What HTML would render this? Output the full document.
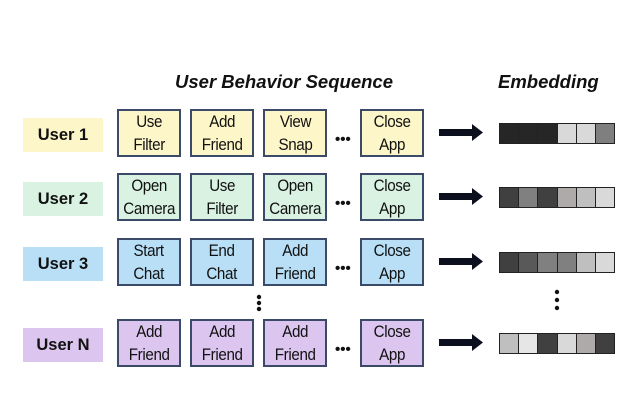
<!DOCTYPE html>
<html><head><meta charset="utf-8"><style>
body{margin:0;width:636px;height:400px;background:#fff;position:relative;overflow:hidden;font-family:"Liberation Sans",sans-serif}
.a{position:absolute}
.h{font-weight:bold;font-style:italic;font-size:18.5px;color:#111;white-space:nowrap}
.lab{position:absolute;width:80px;height:34px;line-height:34px;text-align:center;font-weight:bold;font-size:16.5px;color:#111}
.box{position:absolute;width:60px;height:44px;border:2px solid #3b4a68;text-align:center;font-size:16.5px;line-height:22.5px;color:#111;letter-spacing:-0.4px;white-space:nowrap}
.box span{display:inline-block;transform:scaleX(0.92)}
.dots{position:absolute;font-weight:bold;font-size:15px;color:#111}
.emb{position:absolute;display:flex;border:1.5px solid #222}
.emb div{width:18.2px;height:19px;border-right:1px solid #222}
.emb div:last-child{border-right:none}
</style></head><body>
<div class="a h" style="left:175px;top:71px">User Behavior Sequence</div>
<div class="a h" style="left:498px;top:71px">Embedding</div>

<div class="lab" style="left:23px;top:118px;background:#fdf6c8">User 1</div>
<div class="lab" style="left:23px;top:182px;background:#d9f2e2">User 2</div>
<div class="lab" style="left:23px;top:247px;background:#b8dff6">User 3</div>
<div class="lab" style="left:23px;top:328px;background:#dcc6f0">User N</div>

<div class="box" style="left:117px;top:109px;background:#fdf6c8"><span>Use<br>Filter</span></div>
<div class="box" style="left:190px;top:109px;background:#fdf6c8"><span>Add<br>Friend</span></div>
<div class="box" style="left:263px;top:109px;background:#fdf6c8"><span>View<br>Snap</span></div>
<div class="box" style="left:360px;top:109px;background:#fdf6c8"><span>Close<br>App</span></div>
<div class="box" style="left:117px;top:173px;background:#d9f2e2"><span>Open<br>Camera</span></div>
<div class="box" style="left:190px;top:173px;background:#d9f2e2"><span>Use<br>Filter</span></div>
<div class="box" style="left:263px;top:173px;background:#d9f2e2"><span>Open<br>Camera</span></div>
<div class="box" style="left:360px;top:173px;background:#d9f2e2"><span>Close<br>App</span></div>
<div class="box" style="left:117px;top:238px;background:#b8dff6"><span>Start<br>Chat</span></div>
<div class="box" style="left:190px;top:238px;background:#b8dff6"><span>End<br>Chat</span></div>
<div class="box" style="left:263px;top:238px;background:#b8dff6"><span>Add<br>Friend</span></div>
<div class="box" style="left:360px;top:238px;background:#b8dff6"><span>Close<br>App</span></div>
<div class="box" style="left:117px;top:319px;background:#dcc6f0"><span>Add<br>Friend</span></div>
<div class="box" style="left:190px;top:319px;background:#dcc6f0"><span>Add<br>Friend</span></div>
<div class="box" style="left:263px;top:319px;background:#dcc6f0"><span>Add<br>Friend</span></div>
<div class="box" style="left:360px;top:319px;background:#dcc6f0"><span>Close<br>App</span></div>

<div class="dots" style="left:335px;top:131px">•••</div>
<div class="dots" style="left:335px;top:195px">•••</div>
<div class="dots" style="left:335px;top:260px">•••</div>
<div class="dots" style="left:335px;top:341px">•••</div>

<svg class="a" style="left:0;top:0" width="636" height="400">
<g fill="#111">
<circle cx="259" cy="297" r="2.2"/><circle cx="259" cy="303" r="2.2"/><circle cx="259" cy="309" r="2.2"/>
<circle cx="557" cy="292" r="2.2"/><circle cx="557" cy="300" r="2.2"/><circle cx="557" cy="308" r="2.2"/>
</g>
<g fill="#0b0f1e">
<path d="M439 129h33v-5l11 8.5-11 8.5v-5h-33z"/>
<path d="M439 193h33v-5l11 8.5-11 8.5v-5h-33z"/>
<path d="M439 258h33v-5l11 8.5-11 8.5v-5h-33z"/>
<path d="M439 339h33v-5l11 8.5-11 8.5v-5h-33z"/>
</g>
</svg>

<div class="emb" style="left:499px;top:123px"><div style="background:#262626"></div><div style="background:#262626"></div><div style="background:#262626"></div><div style="background:#d9d9d9"></div><div style="background:#d9d9d9"></div><div style="background:#7f7f7f"></div></div>
<div class="emb" style="left:499px;top:187px"><div style="background:#404040"></div><div style="background:#808080"></div><div style="background:#404040"></div><div style="background:#aeaaaa"></div><div style="background:#bfbfbf"></div><div style="background:#d9d9d9"></div></div>
<div class="emb" style="left:499px;top:252px"><div style="background:#404040"></div><div style="background:#595959"></div><div style="background:#808080"></div><div style="background:#808080"></div><div style="background:#bfbfbf"></div><div style="background:#d9d9d9"></div></div>
<div class="emb" style="left:499px;top:333px"><div style="background:#bfbfbf"></div><div style="background:#e6e6e6"></div><div style="background:#404040"></div><div style="background:#d9d9d9"></div><div style="background:#aeaaaa"></div><div style="background:#404040"></div></div>
</body></html>
